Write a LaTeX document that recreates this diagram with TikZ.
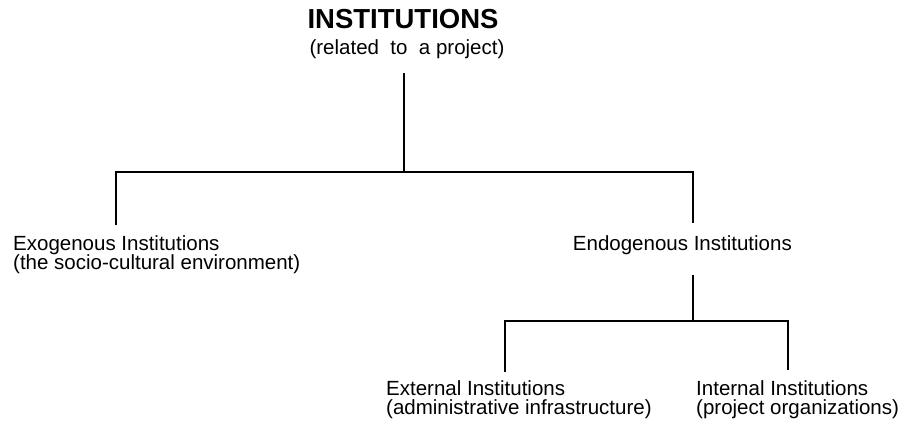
\documentclass[tikz,border=0pt]{standalone}
\usepackage{fontspec}
\setmainfont{Liberation Sans}
\lineskiplimit=-30pt

\tikzset{
  headtext/.style={font=\fontsize{27.5}{30}\selectfont\bfseries, inner sep=0pt},
  labeltext/.style={font=\fontsize{20.5}{19}\selectfont, align=left, inner sep=0pt},
  branch/.style={line width=1.1pt}
}

\begin{document}
\begin{tikzpicture}[x=1pt, y=-1pt]
			\useasboundingbox (0,0) rectangle (908,429);

			\node[headtext, anchor=base] (title) at (403,28) {INSTITUTIONS};
			\node[labeltext, anchor=base] (sub) at (407,54) {(related\ \ to\ \ a project)};

			% two-line labels: base is the last line
			\node[labeltext, anchor=base west] (exo) at (13,269) {Exogenous Institutions\\(the socio-cultural environment)};
			\node[labeltext, anchor=base east] (endo) at (792,250) {Endogenous Institutions};
			\node[labeltext, anchor=base west] (ext) at (386,414) {External Institutions\\(administrative infrastructure)};
			\node[labeltext, anchor=base west] (int) at (696,414) {Internal Institutions\\(project organizations)};

			\coordinate (root) at (404,73);
			\coordinate (fork) at (404,172);
			\coordinate (exo-in) at (116,225);
			\coordinate (endo-in) at (693,223);
			\coordinate (endo-out) at (693,275);
			\coordinate (fork2) at (693,321);
			\coordinate (ext-in) at (505,372);
			\coordinate (int-in) at (788,370);

			\draw[branch] (root) -- (fork);
			\draw[branch] (exo-in) -- (exo-in |- fork) -- (endo-in |- fork) -- (endo-in);
			\draw[branch] (endo-out) -- (fork2);
			\draw[branch] (ext-in) -- (ext-in |- fork2) -- (int-in |- fork2) -- (int-in);
		\end{tikzpicture}
\end{document}
